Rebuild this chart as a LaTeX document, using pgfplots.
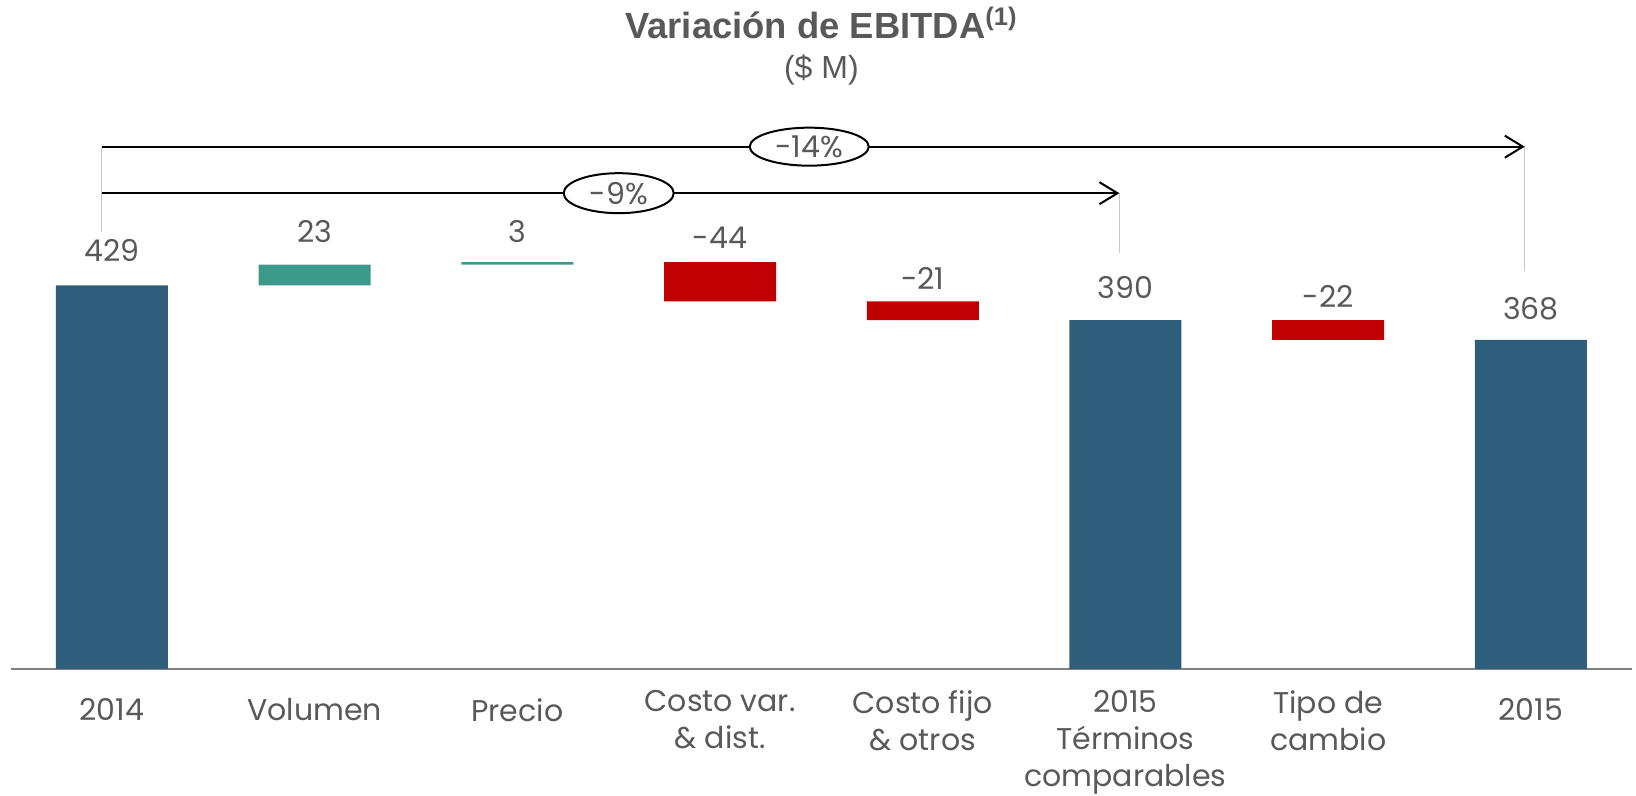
\documentclass[border=0pt]{standalone}
\usepackage{fontspec}
\setmainfont{Poppins}
\newfontfamily\titlefont{Liberation Sans}
\usepackage{pgfplots}
\pgfplotsset{compat=1.18}
\usetikzlibrary{arrows.meta,shapes.geometric}
\definecolor{barblue}{HTML}{2E5E7A}
\definecolor{bargreen}{HTML}{3D9A8B}
\definecolor{barred}{HTML}{C00000}
\definecolor{txtgray}{HTML}{595959}
\definecolor{axgray}{HTML}{7F7F7F}
\definecolor{vgray}{HTML}{C8C8C8}
\newcommand{\dn}[1]{\raisebox{-4pt}[\height][\depth]{#1}}
\begin{document}
\begin{tikzpicture}
\begin{axis}[
  scale only axis, width=810.8pt, height=334.5pt,
  xmin=-0.5, xmax=7.5, ymin=0, ymax=748,
  ybar stacked, bar width=56pt,
  axis x line*=bottom, axis y line=none,
  x axis line style={draw=axgray, line width=1pt},
  xtick={0,1,2,3,4,5,6,7},
  xticklabels={\dn{2014}, \dn{Volumen}, \dn{Precio}, {Costo var.\\\& dist.}, {Costo fijo\\\& otros}, {2015\\Términos\\comparables}, {Tipo de\\cambio}, \dn{2015}},
  major tick length=0pt,
  ytick=\empty,
  xticklabel style={align=center, font=\fontsize{15}{18.5}\selectfont, text=txtgray, anchor=north, inner sep=0pt, yshift=-10.5pt},
  clip=false,
]
\addplot[fill=none, draw=none] coordinates {(0,0) (1,429) (2,452) (3,411) (4,390) (5,0) (6,368) (7,0)};
\addplot[fill=barblue, draw=none] coordinates {(0,429) (1,0) (2,0) (3,0) (4,0) (5,390) (6,0) (7,368)};
\addplot[fill=bargreen, draw=none] coordinates {(0,0) (1,23) (2,3) (3,0) (4,0) (5,0) (6,0) (7,0)};
\addplot[fill=barred, draw=none] coordinates {(0,0) (1,0) (2,0) (3,44) (4,21) (5,0) (6,22) (7,0)};
\coordinate (bl) at (axis cs:-0.5,0);
\coordinate (a1s) at (axis cs:-0.05,584);
\coordinate (a1e) at (axis cs:6.97,584);
\coordinate (a2s) at (axis cs:-0.05,532);
\coordinate (a2e) at (axis cs:4.97,532);
\coordinate (v1) at (axis cs:-0.05,489);
\coordinate (v2) at (axis cs:4.97,465);
\coordinate (v3) at (axis cs:6.97,445);
\coordinate (e1) at (axis cs:3.44,584);
\coordinate (e2) at (axis cs:2.5,532);
\tikzset{vlab/.style={font=\fontsize{15}{18}\selectfont, text=txtgray, anchor=center, inner sep=0pt}}
\node[vlab] at (axis cs:0,467.6) {429};
\node[vlab] at (axis cs:1,488.8) {23};
\node[vlab] at (axis cs:2,488.8) {3};
\node[vlab] at (axis cs:3,482) {-44};
\node[vlab] at (axis cs:4,436.7) {-21};
\node[vlab] at (axis cs:5,426) {390};
\node[vlab] at (axis cs:6,417) {-22};
\node[vlab] at (axis cs:7,402.7) {368};
% titles
\node[anchor=base, text=txtgray, font=\titlefont\bfseries\fontsize{18.2}{20}\selectfont] at (axis cs:3.5,705) {Variación de EBITDA\textsuperscript{(1)}};
\node[anchor=base, text=txtgray, font=\titlefont\fontsize{16}{18}\selectfont] at (axis cs:3.5,660) {(\$ M)};
\end{axis}
% guide lines and arrows
\draw[vgray, line width=0.6pt] (a1s) -- (v1);
\draw[vgray, line width=0.6pt] (a2e) -- (v2);
\draw[vgray, line width=0.6pt] (a1e) -- (v3);
\draw[line width=1pt, -{Straight Barb[length=9pt,width=11pt,line width=1pt]}] (a1s) -- (a1e);
\draw[line width=1pt, -{Straight Barb[length=9pt,width=11pt,line width=1pt]}] (a2s) -- (a2e);
\node[ellipse, draw, line width=1pt, fill=white, minimum width=59.5pt, minimum height=19pt, inner sep=0pt, text=txtgray, font=\fontsize{15}{18}\selectfont] at (e1) {-14\%};
\node[ellipse, draw, line width=1pt, fill=white, minimum width=55pt, minimum height=20pt, inner sep=0pt, text=txtgray, font=\fontsize{15}{18}\selectfont] at (e2) {-9\%};
\pgfresetboundingbox
\path ([xshift=-5.3pt,yshift=-63.5pt]bl) rectangle ++(818pt,398pt);
\end{tikzpicture}
\end{document}
